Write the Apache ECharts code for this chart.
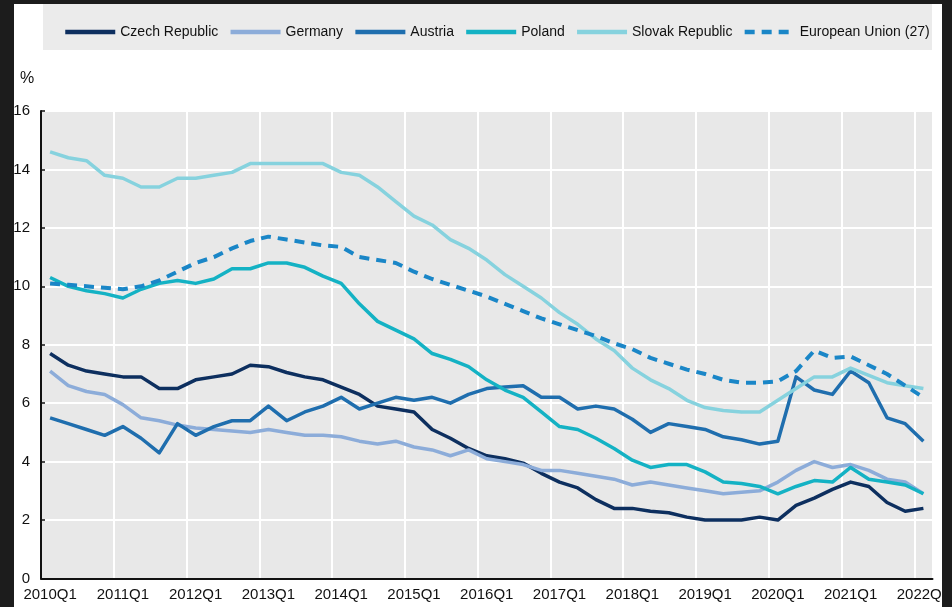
<!DOCTYPE html>
<html>
<head>
<meta charset="utf-8">
<script src="https://cdn.jsdelivr.net/npm/echarts@6/dist/echarts.min.js"></script>
<style>
  html, body { margin: 0; padding: 0; width: 952px; height: 607px; background: #1c1c1c; overflow: hidden; }
  #chart { position: absolute; left: 14px; top: 4px; width: 928px; height: 603px; background: #fff; }
</style>
</head>
<body>
<div id="chart"></div>
<script>
const quarters = [
  '2010Q1', '2010Q2', '2010Q3', '2010Q4', '2011Q1', '2011Q2', '2011Q3', '2011Q4',
  '2012Q1', '2012Q2', '2012Q3', '2012Q4', '2013Q1', '2013Q2', '2013Q3', '2013Q4',
  '2014Q1', '2014Q2', '2014Q3', '2014Q4', '2015Q1', '2015Q2', '2015Q3', '2015Q4',
  '2016Q1', '2016Q2', '2016Q3', '2016Q4', '2017Q1', '2017Q2', '2017Q3', '2017Q4',
  '2018Q1', '2018Q2', '2018Q3', '2018Q4', '2019Q1', '2019Q2', '2019Q3', '2019Q4',
  '2020Q1', '2020Q2', '2020Q3', '2020Q4', '2021Q1', '2021Q2', '2021Q3', '2021Q4',
  '2022Q1'
]

const czech = [
  7.7, 7.3, 7.1, 7.0, 6.9, 6.9, 6.5, 6.5, 6.8, 6.9, 7.0, 7.3, 7.25, 7.05, 6.9, 6.8,
  6.55, 6.3, 5.9, 5.8, 5.7, 5.1, 4.8, 4.45, 4.2, 4.1, 3.95, 3.6, 3.3, 3.1, 2.7, 2.4,
  2.4, 2.3, 2.25, 2.1, 2.0, 2.0, 2.0, 2.1, 2.0, 2.5, 2.75, 3.05, 3.3, 3.15, 2.6, 2.3,
  2.4
]
const germany = [
  7.1, 6.6, 6.4, 6.3, 5.95, 5.5, 5.4, 5.25, 5.15, 5.1, 5.05, 5.0, 5.1, 5.0, 4.9, 4.9,
  4.85, 4.7, 4.6, 4.7, 4.5, 4.4, 4.2, 4.4, 4.1, 4.0, 3.9, 3.7, 3.7, 3.6, 3.5, 3.4,
  3.2, 3.3, 3.2, 3.1, 3.0, 2.9, 2.95, 3.0, 3.3, 3.7, 4.0, 3.8, 3.9, 3.7, 3.4, 3.3,
  2.9
]
const austria = [
  5.5, 5.3, 5.1, 4.9, 5.2, 4.8, 4.3, 5.3, 4.9, 5.2, 5.4, 5.4, 5.9, 5.4, 5.7, 5.9,
  6.2, 5.8, 6.0, 6.2, 6.1, 6.2, 6.0, 6.3, 6.5, 6.55, 6.6, 6.2, 6.2, 5.8, 5.9, 5.8,
  5.45, 5.0, 5.3, 5.2, 5.1, 4.85, 4.75, 4.6, 4.7, 6.9, 6.45, 6.3, 7.1, 6.7, 5.5, 5.3,
  4.7
]
const poland = [
  10.3, 10.0, 9.85, 9.75, 9.6, 9.9, 10.1, 10.2, 10.1, 10.25, 10.6, 10.6, 10.8, 10.8, 10.65, 10.35,
  10.1, 9.4, 8.8, 8.5, 8.2, 7.7, 7.5, 7.25, 6.8, 6.45, 6.2, 5.7, 5.2, 5.1, 4.8, 4.45,
  4.05, 3.8, 3.9, 3.9, 3.65, 3.3, 3.25, 3.15, 2.9, 3.15, 3.35, 3.3, 3.8, 3.4, 3.3, 3.2,
  2.9
]
const slovakia = [
  14.6, 14.4, 14.3, 13.8, 13.7, 13.4, 13.4, 13.7, 13.7, 13.8, 13.9, 14.2, 14.2, 14.2, 14.2, 14.2,
  13.9, 13.8, 13.4, 12.9, 12.4, 12.1, 11.6, 11.3, 10.9, 10.4, 10.0, 9.6, 9.1, 8.7, 8.2, 7.8,
  7.2, 6.8, 6.5, 6.1, 5.85, 5.75, 5.7, 5.7, 6.1, 6.5, 6.9, 6.9, 7.2, 6.95, 6.7, 6.6,
  6.5
]
const eu27 = [
  10.1, 10.05, 10.0, 9.95, 9.9, 10.0, 10.2, 10.5, 10.8, 11.0, 11.3, 11.55, 11.7, 11.6, 11.5, 11.4,
  11.35, 11.0, 10.9, 10.8, 10.5, 10.25, 10.05, 9.85, 9.65, 9.4, 9.15, 8.9, 8.7, 8.5, 8.3, 8.05,
  7.85, 7.55, 7.35, 7.15, 7.0, 6.8, 6.7, 6.7, 6.75, 7.1, 7.8, 7.55, 7.6, 7.3, 7.0, 6.6,
  6.2
]

const font = "'Liberation Sans', Arial, sans-serif"

function line(name, data, color, dashed) {
  return {
    name: name,
    type: 'line',
    data: data,
    symbol: 'none',
    animation: false,
    lineStyle: {
      color: color,
      width: dashed ? 4 : 3.5,
      type: dashed ? [10, 7] : 'solid',
      cap: 'butt',
      join: 'round'
    },
    itemStyle: { color: color }
  }
}

const chart = echarts.init(document.getElementById('chart'))

chart.setOption({
  textStyle: { fontFamily: font },
  graphic: [
    {
      type: 'rect',
      z: -1,
      shape: { x: 29, y: 0, width: 889, height: 46 },
      style: { fill: '#ebebeb' }
    },
    {
      type: 'text',
      left: 6,
      top: 67,
      style: { text: '%', fontSize: 16, fontFamily: font, fill: '#111' }
    }
  ],
  legend: {
    left: 44,
    top: 16,
    width: 900,
    itemWidth: 50,
    itemHeight: 14,
    itemGap: 10,
    itemStyle: { opacity: 0 },
    lineStyle: { width: 4.5 },
    textStyle: { fontSize: 14, color: '#111', fontFamily: font },
    data: ['Czech Republic', 'Germany', 'Austria', 'Poland', 'Slovak Republic', 'European Union (27)']
  },
  grid: {
    left: 27,
    right: 9.5,
    top: 107,
    bottom: 28.5,
    outerBoundsMode: 'none',
    containLabel: false,
    show: true,
    backgroundColor: '#e8e8e8',
    borderWidth: 0
  },
  xAxis: {
    type: 'category',
    data: quarters,
    boundaryGap: true,
    axisLine: { lineStyle: { color: '#111', width: 2 } },
    axisTick: { interval: 3, inside: true, length: 7, lineStyle: { color: '#111', width: 1.5 } },
    axisLabel: { interval: 3, margin: 9, fontSize: 15, color: '#111', fontFamily: font },
    splitLine: { show: true, interval: 3, lineStyle: { color: '#fff', width: 2 } }
  },
  yAxis: {
    type: 'value',
    min: 0,
    max: 16,
    interval: 2,
    axisLine: { show: true, lineStyle: { color: '#111', width: 2 } },
    axisTick: { show: true, inside: true, length: 4, lineStyle: { color: '#111', width: 1.5 } },
    axisLabel: { margin: 11, fontSize: 15, color: '#111', fontFamily: font },
    splitLine: { lineStyle: { color: '#fff', width: 2 } }
  },
  series: [
    line('Czech Republic', czech, '#0d2f5f'),
    line('Germany', germany, '#8cacd9'),
    line('Austria', austria, '#1f6eae'),
    line('Poland', poland, '#14b2c4'),
    line('Slovak Republic', slovakia, '#86d2de'),
    line('European Union (27)', eu27, '#1a86c7', true)
  ]
})
</script>
</body>
</html>
